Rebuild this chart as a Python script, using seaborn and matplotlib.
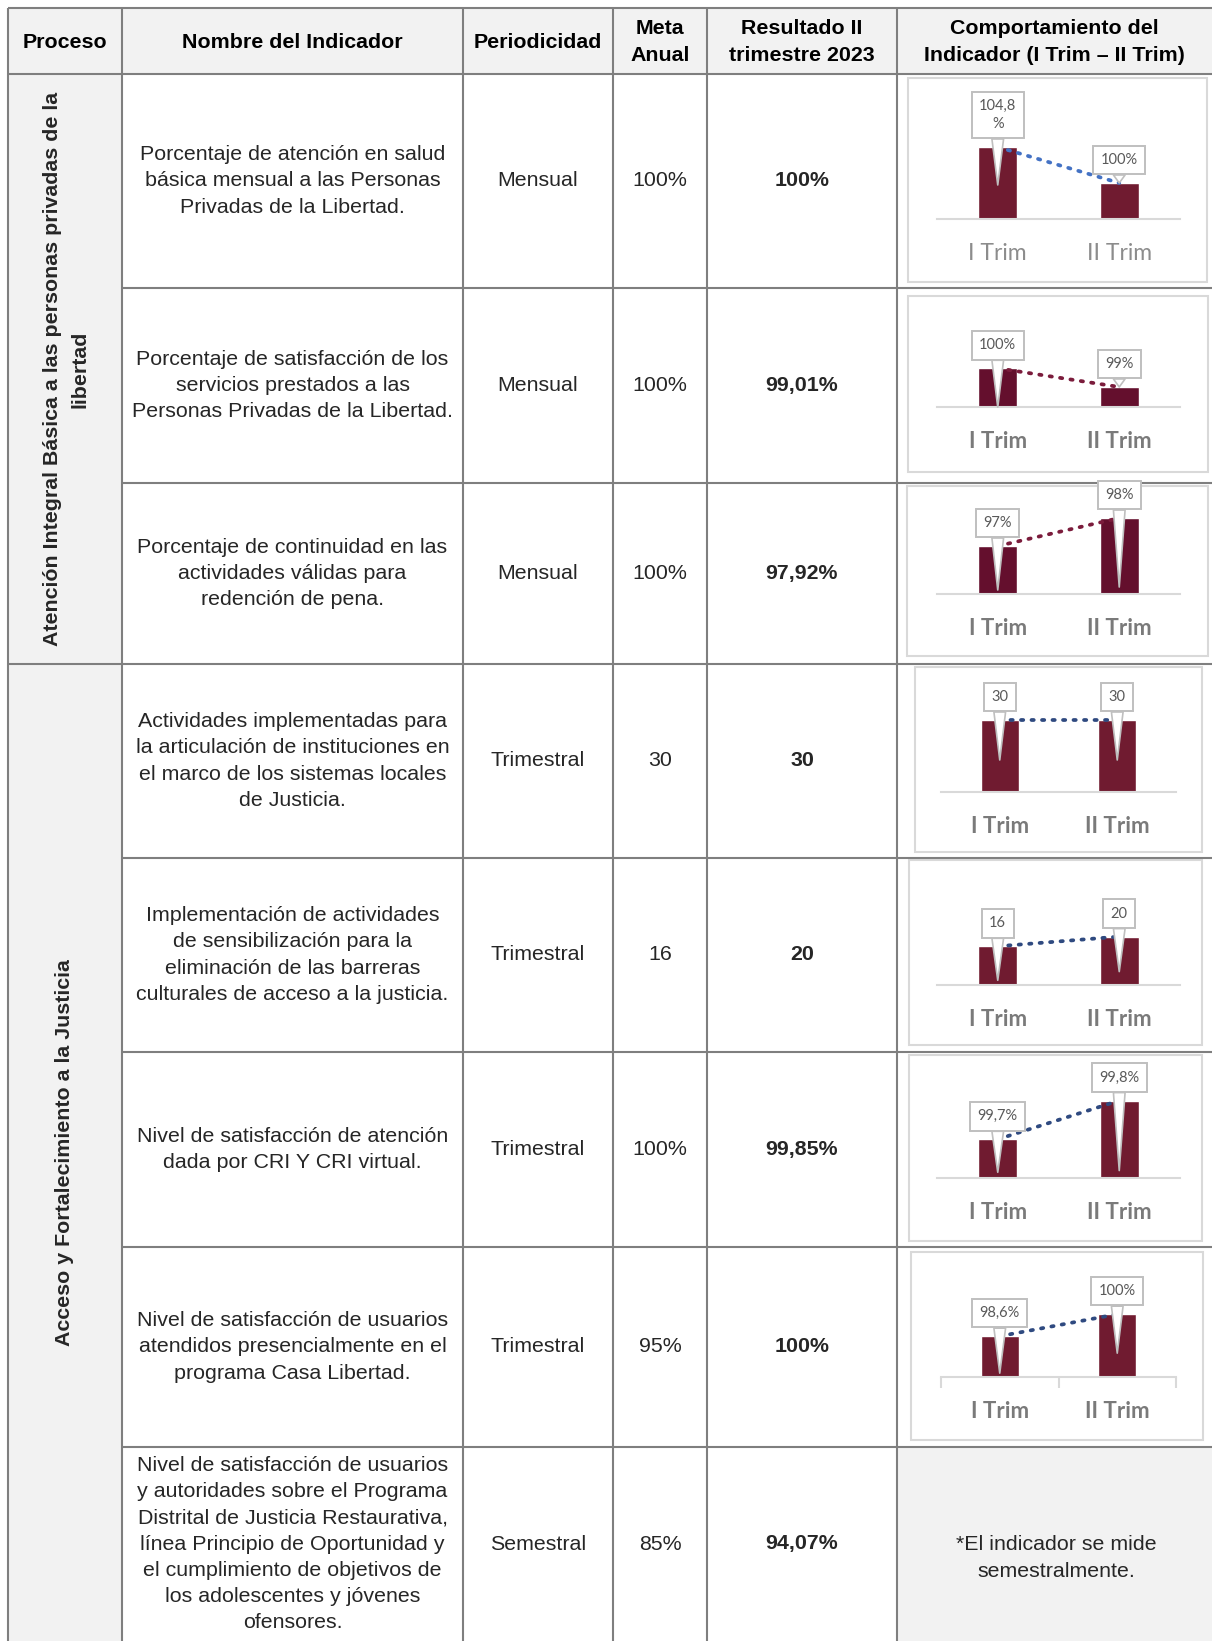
import matplotlib
matplotlib.use("Agg")
import matplotlib.pyplot as plt
import matplotlib.transforms as mtransforms
from matplotlib.patches import Rectangle
import seaborn as sns

sns.set_theme(style="white")
plt.rcParams['font.family'] = ['Liberation Sans', 'DejaVu Sans']

# --- DATOS ---
HEADERS = ["Proceso", "Nombre del Indicador", "Periodicidad", "Meta\nAnual",
           "Resultado II\ntrimestre 2023", "Comportamiento del\nIndicador (I Trim \u2013 II Trim)"]
PROCESOS = ["Atención Integral Básica a las personas privadas de la\nlibertad",
            "Acceso y Fortalecimiento a la Justicia"]
INDICADORES = [
    "Porcentaje de atención en salud\nbásica mensual a las Personas\nPrivadas de la Libertad.",
    "Porcentaje de satisfacción de los\nservicios prestados a las\nPersonas Privadas de la Libertad.",
    "Porcentaje de continuidad en las\nactividades válidas para\nredención de pena.",
    "Actividades implementadas para\nla articulación de instituciones en\nel marco de los sistemas locales\nde Justicia.",
    "Implementación de actividades\nde sensibilización para la\neliminación de las barreras\nculturales de acceso a la justicia.",
    "Nivel de satisfacción de atención\ndada por CRI Y CRI virtual.",
    "Nivel de satisfacción de usuarios\natendidos presencialmente en el\nprograma Casa Libertad.",
    "Nivel de satisfacción de usuarios\ny autoridades sobre el Programa\nDistrital de Justicia Restaurativa,\nlínea Principio de Oportunidad y\nel cumplimiento de objetivos de\nlos adolescentes y jóvenes\nofensores.",
]
PERIODICIDAD = ["Mensual", "Mensual", "Mensual", "Trimestral", "Trimestral",
                "Trimestral", "Trimestral", "Semestral"]
META = ["100%", "100%", "100%", "30", "16", "100%", "95%", "85%"]
RESULTADO = ["100%", "99,01%", "97,92%", "30", "20", "99,85%", "100%", "94,07%"]
NOTA_SEMESTRAL = "*El indicador se mide\nsemestralmente."

TRIMESTRES = ["I Trim", "II Trim"]
trim_vals = [[104.8, 100.0], [100.0, 99.01], [97.0, 97.92], [30, 30],
             [16, 20], [99.7, 99.8], [98.6, 100.0]]
trim_labels = [["104,8\n%", "100%"], ["100%", "99%"], ["97%", "98%"], ["30", "30"],
               ["16", "20"], ["99,7%", "99,8%"], ["98,6%", "100%"]]
ylims = [(95.2, 111.2), (97.95, 104.3), (95.42, 99.37), (0, 50),
         (0, 49.6), (99.6, 99.91), (96.0, 103.64)]

# --- LAYOUT (pixeles) ---
W, H = 1212, 1641
COL_X = [8, 122, 463, 613, 707, 897, 1212]
ROW_Y = [8, 74, 288, 483, 664, 858, 1052, 1247, 1447, 1641]
BOXES = [(908, 78, 1207, 282), (908, 296, 1208, 472), (907, 486, 1208, 656),
         (915, 667, 1202, 852), (909, 860, 1202, 1045), (909, 1055, 1202, 1241),
         (911, 1252, 1203, 1440)]
BASE_Y = [219, 407, 594, 792, 985, 1178, 1377]
BASE_X = [(937, 1180), (937, 1180), (937, 1180), (941, 1176),
          (937, 1180), (937, 1180), (941, 1176)]
TIP_DEPTH = [[38, 0], [39, 0], [44, 69], [40, 40], [34, 35], [33, 70], [37, 39]]
BAR_COLORS = ["#701b30", "#640f2d", "#640f2d", "#701b30", "#701b30", "#701b30", "#701b30"]
LINE_COLORS = ["#4472c4", "#7b1c3c", "#7b1c3c", "#2f4a80", "#2f4a80", "#2f4a80", "#2f4a80"]
GRID = "#7f7f7f"
GRAY_BG = "#f2f2f2"
FS = 15.4

fig = plt.figure(figsize=(W / 100, H / 100), dpi=100)
ax = fig.add_axes([0, 0, 1, 1])
ax.set_xlim(0, W)
ax.set_ylim(H, 0)
ax.axis('off')

# fondos
ax.add_patch(Rectangle((COL_X[0], ROW_Y[0]), W - COL_X[0], ROW_Y[1] - ROW_Y[0], fc=GRAY_BG, ec='none'))
ax.add_patch(Rectangle((COL_X[0], ROW_Y[1]), COL_X[1] - COL_X[0], H - ROW_Y[1], fc=GRAY_BG, ec='none'))
ax.add_patch(Rectangle((COL_X[5], ROW_Y[8]), W - COL_X[5], H - ROW_Y[8], fc=GRAY_BG, ec='none'))

# lineas de la tabla
for x in COL_X[:-1]:
    ax.plot([x, x], [ROW_Y[0], H], color=GRID, lw=1.5, solid_capstyle='butt')
for i, y in enumerate(ROW_Y[:-1]):
    x0 = COL_X[0] if i in (0, 1, 4) else COL_X[1]
    ax.plot([x0, W], [y, y], color=GRID, lw=1.5, solid_capstyle='butt')

# encabezados
for j, h in enumerate(HEADERS):
    cx = (COL_X[j] + COL_X[j + 1]) / 2
    ax.text(cx, (ROW_Y[0] + ROW_Y[1]) / 2 + 1, h, ha='center', va='center', fontsize=FS,
            fontweight='bold', linespacing=1.5, color='black')

# procesos (rotados)
ax.text(66, (ROW_Y[1] + ROW_Y[4]) / 2, PROCESOS[0], rotation=90, ha='center', va='center',
        fontsize=FS, fontweight='bold', linespacing=1.55)
ax.text(65, (ROW_Y[4] + H) / 2, PROCESOS[1], rotation=90, ha='center', va='center',
        fontsize=FS, fontweight='bold')

# filas
for r in range(8):
    cy = (ROW_Y[r + 1] + ROW_Y[r + 2]) / 2
    ax.text((COL_X[1] + COL_X[2]) / 2, cy, INDICADORES[r], ha='center', va='center',
            fontsize=FS, linespacing=1.47)
    ax.text((COL_X[2] + COL_X[3]) / 2, cy, PERIODICIDAD[r], ha='center', va='center', fontsize=FS)
    ax.text((COL_X[3] + COL_X[4]) / 2, cy, META[r], ha='center', va='center', fontsize=FS)
    ax.text((COL_X[4] + COL_X[5]) / 2, cy, RESULTADO[r], ha='center', va='center',
            fontsize=FS, fontweight='bold')

ax.text((COL_X[5] + W) / 2 + 2, 1558, NOTA_SEMESTRAL, ha='center', va='center', fontsize=FS,
        linespacing=1.47)

# mini graficos
for k in range(7):
    bx0, by0, bx1, by1 = BOXES[k]
    ax.add_patch(Rectangle((bx0, by0), bx1 - bx0, by1 - by0, fc='white', ec='#d9d9d9', lw=1.5))

    x0, x1 = BASE_X[k]
    cax = fig.add_axes([x0 / W, 1 - BASE_Y[k] / H, (x1 - x0) / W, 120 / H])
    cax.set_facecolor('none')
    sns.barplot(x=TRIMESTRES, y=trim_vals[k], ax=cax, color=BAR_COLORS[k],
                saturation=1, width=0.32, zorder=2)
    cax.plot([0, 1], trim_vals[k], linestyle=(0, (0.6, 2.2)), lw=2.7,
             color=LINE_COLORS[k], dash_capstyle='round', zorder=3)
    cax.set_xlim(-0.5, 1.5)
    cax.set_ylim(*ylims[k])
    cax.set_yticks([])
    cax.set_xlabel('')
    cax.set_ylabel('')
    for s in ('top', 'left', 'right'):
        cax.spines[s].set_visible(False)
    cax.spines['bottom'].set_color('#d9d9d9')
    cax.spines['bottom'].set_linewidth(1.5)
    cax.tick_params(axis='x', which='major', length=0, pad=17, labelsize=16)
    if k == 6:
        cax.set_xticks([-0.5, 0.5, 1.5], minor=True)
        cax.tick_params(axis='x', which='minor', length=8, width=1.5, color='#d9d9d9',
                        direction='out', bottom=True)
    for lab in cax.get_xticklabels():
        lab.set_fontfamily(['Lato', 'DejaVu Sans'])
        if k == 0:
            lab.set_color('#8c8c8c')
            lab.set_fontsize(16.5)
        else:
            lab.set_color('#7a7a7a')
            lab.set_fontweight('bold')

    for i in range(2):
        v = trim_vals[k][i]
        txt_tr = mtransforms.offset_copy(cax.transData, x=0, y=16, units='dots')
        tip_tr = mtransforms.offset_copy(cax.transData, x=0, y=-TIP_DEPTH[k][i], units='dots')
        cax.annotate(trim_labels[k][i], xy=(i, v), xycoords=tip_tr,
                     xytext=(i, v), textcoords=txt_tr,
                     ha='center', va='bottom', fontsize=10.5, color='#595959',
                     family=['Lato', 'DejaVu Sans'], multialignment='center', linespacing=1.35,
                     bbox=dict(boxstyle='square,pad=0.5', fc='white', ec='#bfbfbf', lw=1.4),
                     arrowprops=dict(arrowstyle='wedge,tail_width=0.8', fc='white',
                                     ec='#bfbfbf', lw=1.2, shrinkA=0, shrinkB=0),
                     annotation_clip=False, zorder=5)

fig.savefig("out.png", dpi=100)
